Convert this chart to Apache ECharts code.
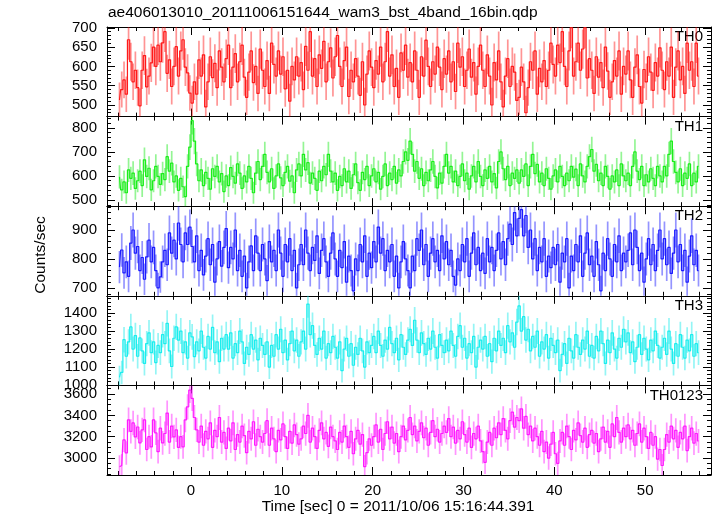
<!DOCTYPE html>
<html>
<head>
<meta charset="utf-8">
<script src="https://cdn.jsdelivr.net/npm/echarts@6/dist/echarts.min.js"></script>
<style>html,body{margin:0;padding:0;background:#fff}#c{width:717px;height:516px}</style>
</head>
<body>
<div id="c"></div>
<script>
// ---- data (counts/sec per 0.25 s bin) ----
const titleText = 'ae406013010_20111006151644_wam3_bst_4band_16bin.qdp';
const xTitle = 'Time [sec] 0 = 2011/10/06 15:16:44.391';
const yTitle = 'Counts/sec';
const binStart = -7.875;
const binWidth = 0.25;
const bandNames = ['TH0', 'TH1', 'TH2', 'TH3', 'TH0123'];
const xMajorTicks = [0, 10, 20, 30, 40, 50];

const th0 = [
513,540,565,528,669,612,560,590,545,498,590,628,547,575,609,650,
600,655,612,661,690,582,617,548,600,651,575,640,669,598,583,531,
505,560,528,617,575,630,495,560,625,571,608,545,640,598,560,620,
655,545,598,633,560,612,655,572,520,585,640,558,600,530,645,590,
548,615,530,660,605,575,640,580,625,542,590,510,600,565,625,575,
610,540,652,590,690,575,620,548,630,595,665,560,612,648,570,625,
680,600,548,615,650,522,590,560,620,575,525,612,500,580,640,598,
545,615,580,650,560,612,690,575,630,548,595,520,635,590,655,572,
610,560,640,590,520,625,575,668,600,548,612,580,650,598,540,620,
580,640,560,612,535,660,598,625,548,590,645,572,610,528,600,655,
590,548,630,575,500,610,565,640,560,495,575,620,548,600,585,512,
520,598,560,480,545,612,590,640,528,595,560,615,548,590,660,605,
575,655,610,690,600,548,640,700,575,612,660,590,645,700,570,620,
590,530,625,572,610,545,650,588,520,560,615,575,640,528,600,580,
640,565,520,598,630,548,505,592,560,625,585,538,610,575,648,590,
540,612,575,650,520,598,640,565,600,530,660,590,612,548,660,575
];
const th1 = [
596,542,575,530,625,590,612,548,580,620,560,667,598,632,542,580,
640,598,565,610,585,680,620,653,575,600,540,590,555,514,640,720,
830,745,650,580,625,560,615,590,545,630,598,640,575,610,535,600,
560,635,598,570,650,612,548,600,575,640,590,530,612,660,585,640,
690,615,575,630,548,600,650,592,560,615,640,578,600,530,625,650,
600,690,625,655,570,612,590,540,620,580,640,605,690,620,575,612,
540,598,560,630,575,620,548,605,650,572,540,615,585,640,560,600,
630,575,615,545,598,650,560,612,585,640,570,625,600,660,700,665,
745,690,620,660,590,630,560,615,580,625,660,598,550,612,570,640,
690,612,640,575,620,560,598,650,580,612,545,600,640,575,660,598,
560,625,590,640,575,610,550,660,700,630,585,640,560,612,590,625,
570,625,598,650,560,640,690,610,648,575,612,560,630,590,545,600,
625,575,640,598,560,612,580,640,595,628,560,650,600,575,640,680,
710,620,648,580,612,560,640,598,545,600,575,625,560,650,600,580,
612,560,640,700,620,585,640,560,605,575,630,590,560,640,600,575,
640,600,690,745,660,615,575,630,560,612,590,650,560,612,575,640
];
const th2 = [
772,831,752,790,740,855,900,820,843,760,805,730,807,865,790,840,
760,700,738,790,830,780,890,820,865,800,924,850,790,890,850,910,
843,790,880,760,830,745,810,870,780,850,720,800,860,775,840,905,
770,840,800,900,760,830,740,810,700,790,845,760,880,820,760,850,
800,725,860,790,830,760,900,820,740,850,790,870,760,830,700,780,
850,780,900,820,760,840,795,880,750,830,870,790,740,820,890,800,
740,830,770,860,720,810,760,690,800,760,850,790,880,740,820,770,
860,790,910,820,870,760,830,790,850,740,810,700,790,860,800,760,
700,810,760,870,830,900,780,850,740,820,870,790,830,760,880,800,
860,780,830,740,710,800,760,850,790,870,740,820,890,780,840,760,
820,750,870,790,840,760,830,890,800,860,780,870,920,850,960,880,
940,970,880,950,840,900,800,870,760,840,790,870,740,810,770,840,
780,850,720,820,790,870,700,810,760,850,790,880,740,820,890,780,
810,740,860,780,690,820,760,870,800,740,850,790,880,760,820,790,
830,890,780,900,840,760,820,720,800,870,780,850,760,830,900,800,
870,780,840,750,820,900,790,850,760,830,720,810,880,780,830,760
];
const th3 = [
1043,1070,1252,1160,1240,1323,1200,1275,1160,1262,1190,1120,1230,1290,1180,1240,
1125,1220,1180,1280,1230,1343,1190,1103,1260,1323,1250,1300,1180,1240,1150,1290,
1268,1158,1240,1190,1300,1210,1150,1270,1200,1320,1180,1240,1130,1260,1200,1280,
1200,1290,1150,1230,1180,1300,1240,1120,1210,1170,1280,1200,1250,1140,1260,1220,
1170,1240,1100,1220,1160,1280,1200,1310,1180,1250,1140,1230,1300,1190,1250,1160,
1240,1300,1200,1450,1280,1330,1220,1170,1260,1200,1300,1150,1230,1180,1270,1210,
1150,1240,1080,1200,1260,1160,1230,1110,1210,1170,1260,1190,1100,1240,1180,1220,
1270,1180,1300,1220,1160,1250,1200,1320,1230,1180,1260,1140,1280,1210,1170,1250,
1310,1220,1360,1250,1180,1290,1230,1170,1260,1200,1300,1210,1150,1280,1220,1180,
1250,1190,1300,1220,1160,1270,1330,1210,1260,1150,1230,1180,1270,1100,1210,1250,
1200,1270,1160,1230,1130,1260,1190,1300,1220,1260,1180,1330,1240,1290,1210,1350,
1440,1300,1380,1250,1310,1190,1270,1210,1300,1160,1240,1200,1280,1150,1260,1220,
1180,1250,1080,1170,1230,1120,1260,1190,1150,1280,1210,1170,1250,1200,1300,1160,
1220,1150,1270,1190,1300,1230,1120,1250,1180,1290,1200,1150,1260,1210,1310,1240,
1290,1180,1240,1130,1210,1280,1170,1260,1200,1140,1250,1190,1300,1220,1150,1210,
1260,1170,1300,1200,1120,1230,1160,1280,1210,1150,1250,1190,1280,1160,1230,1180
];
const th0123 = [
2918,2930,3170,3048,3357,3250,3329,3198,3291,3142,3264,3357,3080,3200,3105,3357,
3235,3060,3280,3142,3230,3422,3150,3300,3198,3264,3100,3200,3105,3357,3480,3637,
3560,3380,3264,3150,3300,3120,3250,3180,3330,3100,3260,3200,3380,3150,3240,3090,
3280,3160,3330,3080,3220,3150,3300,3210,3050,3250,3180,3340,3120,3270,3200,3150,
3230,3350,3120,3280,3180,3060,3260,3170,3320,3200,3090,3250,3140,3310,3220,3130,
3180,3300,3230,3400,3150,3280,3200,3090,3260,3330,3180,3240,3110,3290,3200,3160,
3080,3240,3150,3300,3200,3100,3250,3040,3180,3260,3130,3220,2920,3050,3180,3120,
3200,3310,3150,3270,3080,3230,3340,3180,3290,3140,3230,3060,3200,3300,3170,3260,
3380,3220,3300,3160,3250,3330,3190,3280,3120,3240,3350,3200,3270,3150,3230,3300,
3240,3370,3200,3290,3140,3260,3180,3340,3220,3150,3280,3100,3230,3180,3300,3160,
3060,2960,3150,3240,3120,3280,3190,3330,3220,3370,3260,3180,3350,3430,3290,3380,
3350,3460,3280,3390,3220,3300,3160,3280,3200,3120,3250,3060,3150,3000,3130,3240,
3040,2950,3160,3240,3120,3300,3200,3080,3260,3170,3330,3210,3150,3280,3100,3220,
3260,3140,3230,3060,3180,3290,3150,3250,3100,3320,3200,3380,3240,3150,3280,3200,
3310,3180,3260,3120,3230,3320,3150,3280,3200,3090,3240,3120,3200,2990,3080,2930,
3080,3220,3150,3300,3180,3260,3100,3240,3180,3300,3070,3200,3280,3140,3230,3160
];
const bandValues = [th0, th1, th2, th3, th0123];
const yMajorTicks = [
  [500, 550, 600, 650, 700],
  [500, 600, 700, 800],
  [700, 800, 900],
  [1000, 1100, 1200, 1300, 1400],
  [3000, 3200, 3400, 3600]
];

// ---- styling / layout (not data) ----
const colors = ['#ff1a1a', '#1aee1a', '#1a1aff', '#1aeeee', '#ff1aff'];
const errColors = ['rgba(255,0,0,0.42)', 'rgba(0,230,0,0.42)', 'rgba(0,0,255,0.42)', 'rgba(0,230,230,0.42)', 'rgba(255,0,255,0.42)'];
const yRanges = [[470, 702], [474, 847], [673, 982], [998, 1496], [2841, 3681]];
const yMinorStep = [10, 20, 20, 20, 50];
const xMin = -9.25, xMax = 57.25;
const plotLeft = 107, plotRight = 711, plotTop = 27, plotBottom = 475;
const panelH = (plotBottom - plotTop) / 5;
const FONT = '"Liberation Sans", Arial, Helvetica, sans-serif';

function stepList(a, b, s) { const r = []; for (let v = Math.ceil(a / s) * s; v <= b + 1e-9; v += s) r.push(v); return r; }
const xMinorTicks = stepList(-8, 56, 2);
const plain = v => String(v);

const grids = [], xAxes = [], yAxes = [], series = [], graphics = [];
for (let p = 0; p < 5; p++) {
  const top = plotTop + p * panelH;
  grids.push({ left: plotLeft, width: plotRight - plotLeft, top: top, height: panelH, containLabel: false });
  const isLast = p === 4;
  const xBase = { type: 'value', gridIndex: p, min: xMin, max: xMax, splitLine: { show: false } };
  const line = { show: true, onZero: false, lineStyle: { color: '#000', width: 1 } };
  xAxes.push(Object.assign({}, xBase, { position: 'bottom', axisLine: line,
    axisTick: { show: true, inside: true, length: 8, customValues: xMajorTicks, lineStyle: { color: '#000', width: 1 } },
    axisLabel: { show: isLast, customValues: xMajorTicks, formatter: plain, fontSize: 15, color: '#000', fontFamily: FONT, margin: 8 } }));
  xAxes.push(Object.assign({}, xBase, { position: 'bottom', axisLine: { show: false, onZero: false },
    axisTick: { show: true, inside: true, length: 4, customValues: xMinorTicks, lineStyle: { color: '#000', width: 1 } },
    axisLabel: { show: false } }));
  xAxes.push(Object.assign({}, xBase, { position: 'top', axisLine: line,
    axisTick: { show: true, inside: true, length: 8, customValues: xMajorTicks, lineStyle: { color: '#000', width: 1 } },
    axisLabel: { show: false } }));
  xAxes.push(Object.assign({}, xBase, { position: 'top', axisLine: { show: false, onZero: false },
    axisTick: { show: true, inside: true, length: 4, customValues: xMinorTicks, lineStyle: { color: '#000', width: 1 } },
    axisLabel: { show: false } }));
  const yr = yRanges[p];
  const yMinor = stepList(yr[0], yr[1], yMinorStep[p]);
  const yBase = { type: 'value', gridIndex: p, min: yr[0], max: yr[1], splitLine: { show: false }, scale: true };
  yAxes.push(Object.assign({}, yBase, { position: 'left', axisLine: line,
    axisTick: { show: true, inside: true, length: 8, customValues: yMajorTicks[p], lineStyle: { color: '#000', width: 1 } },
    axisLabel: { show: true, customValues: yMajorTicks[p], formatter: plain, fontSize: 15, color: '#000', fontFamily: FONT, margin: 10 } }));
  yAxes.push(Object.assign({}, yBase, { position: 'left', axisLine: { show: false, onZero: false },
    axisTick: { show: true, inside: true, length: 4, customValues: yMinor, lineStyle: { color: '#000', width: 1 } },
    axisLabel: { show: false } }));
  yAxes.push(Object.assign({}, yBase, { position: 'right', axisLine: line,
    axisTick: { show: true, inside: true, length: 8, customValues: yMajorTicks[p], lineStyle: { color: '#000', width: 1 } },
    axisLabel: { show: false } }));
  yAxes.push(Object.assign({}, yBase, { position: 'right', axisLine: { show: false, onZero: false },
    axisTick: { show: true, inside: true, length: 4, customValues: yMinor, lineStyle: { color: '#000', width: 1 } },
    axisLabel: { show: false } }));

  const vals = bandValues[p];
  const pts = vals.map((v, i) => [binStart + i * binWidth, v]);
  const errPts = vals.map((v, i) => [binStart + i * binWidth, v, Math.sqrt(v / binWidth)]);
  const xi = p * 4, yi = p * 4;
  const ec = errColors[p];
  series.push({
    type: 'custom', xAxisIndex: xi, yAxisIndex: yi, clip: true, silent: true,
    encode: { x: 0, y: 1 },
    data: errPts,
    renderItem: function (params, api) {
      const t = api.value(0), v = api.value(1), e = api.value(2);
      const a = api.coord([t, v - e]), b = api.coord([t, v + e]);
      return { type: 'line', shape: { x1: a[0], y1: a[1], x2: b[0], y2: b[1] }, style: { stroke: ec, lineWidth: 1.7 } };
    }
  });
  series.push({
    type: 'line', xAxisIndex: xi, yAxisIndex: yi, data: pts, step: 'middle', showSymbol: false, symbol: 'none',
    clip: true, silent: true, lineStyle: { color: colors[p], width: 1.2, opacity: 1 }
  });
  graphics.push({ type: 'text', x: 703, y: top + 10, style: { text: bandNames[p], fill: '#000', font: '15px ' + FONT, textAlign: 'right', textVerticalAlign: 'middle' } });
}
graphics.push({ type: 'text', x: 108, y: 13, style: { text: titleText, fill: '#000', font: '15.5px ' + FONT, textAlign: 'left', textVerticalAlign: 'middle' } });
graphics.push({ type: 'text', x: 398, y: 507, style: { text: xTitle, fill: '#000', font: '15.5px ' + FONT, textAlign: 'center', textVerticalAlign: 'middle' } });
graphics.push({ type: 'text', x: 41, y: 255, rotation: Math.PI / 2, style: { text: yTitle, fill: '#000', font: '15.5px ' + FONT, textAlign: 'center', textVerticalAlign: 'middle' } });

const chart = echarts.init(document.getElementById('c'), null, { renderer: 'canvas' });
chart.setOption({
  animation: false,
  backgroundColor: '#fff',
  grid: grids, xAxis: xAxes, yAxis: yAxes, series: series, graphic: graphics
});
</script>
</body>
</html>
